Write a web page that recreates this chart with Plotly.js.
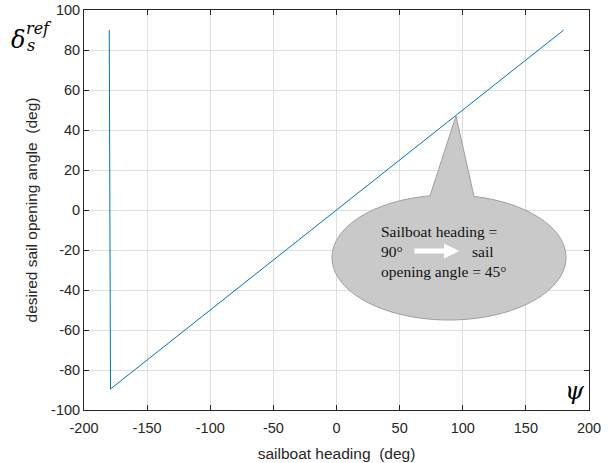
<!DOCTYPE html>
<html>
<head>
<meta charset="utf-8">
<script src="https://cdn.plot.ly/plotly-3.0.1.min.js"></script>
<style>html,body{margin:0;padding:0;background:#fff;}#chart{width:616px;height:463px;}</style>
</head>
<body>
<div id="chart"></div>
<script>
// Data
const heading = [-180, -179, 180];        // sailboat heading (deg)
const sailAngle = [90, -89.5, 90];        // desired sail opening angle (deg)
const xTicks = [-200, -150, -100, -50, 0, 50, 100, 150, 200];
const yTicks = [-100, -80, -60, -40, -20, 0, 20, 40, 60, 80, 100];
const calloutLines = ["Sailboat heading =", "90°", "sail", "opening angle = 45°"];

// plot geometry (pixels) used for converting callout geometry
const L = 84, R = 27, T = 10, B = 53, W = 616, H = 463;
const pw = W - L - R, ph = H - T - B;
const xr = [-200, 200], yr = [-100, 100];
const px2x = p => xr[0] + (p - L) / pw * (xr[1] - xr[0]);
const py2y = p => yr[1] - (p - T) / ph * (yr[1] - yr[0]);

// speech-bubble callout (in pixel space, converted to data)
const cx = 449, cy = 257.5, rx = 117, ry = 62.5;
const tip = [456, 116];
const tL = Math.acos((430 - cx) / rx), tR = Math.acos((474 - cx) / rx);
let path = `M${px2x(tip[0])},${py2y(tip[1])}`;
const n = 120;
const t0 = tL, t1 = tR + 2 * Math.PI;
for (let i = 0; i <= n; i++) {
  const t = t0 + (t1 - t0) * i / n;
  const X = cx + rx * Math.cos(t), Y = cy - ry * Math.sin(t);
  path += ` L${px2x(X)},${py2y(Y)}`;
}
path += " Z";

const trace = {
  x: heading, y: sailAngle, type: 'scatter', mode: 'lines',
  line: {color: '#0072BD', width: 1}, hoverinfo: 'skip'
};

const axisCommon = {
  showline: true, linecolor: '#262626', linewidth: 1, mirror: 'ticks',
  ticks: 'inside', ticklen: 5, tickcolor: '#262626',
  showgrid: true, gridcolor: '#dfdfdf', gridwidth: 1,
  zeroline: false, tickfont: {family: 'Liberation Sans, Arial', size: 14.5, color: '#262626'}
};

const serif = 'Liberation Serif, Times New Roman, serif';
const txt = (text, px, py, extra) => Object.assign({
  text: text, x: px2x(px), y: py2y(py), xref: 'x', yref: 'y',
  xanchor: 'left', yanchor: 'middle', showarrow: false,
  font: {family: serif, size: 15.5, color: '#111'}
}, extra || {});

const layout = {
  width: W, height: H,
  margin: {l: L, r: R, t: T, b: B},
  paper_bgcolor: '#fff', plot_bgcolor: '#fff',
  showlegend: false,
  xaxis: Object.assign({}, axisCommon, {
    range: xr, tickvals: xTicks, ticktext: xTicks.map(String), ticklabelstandoff: 5,
    title: {text: 'sailboat heading  (deg)', font: {family: 'Liberation Sans, Arial', size: 15.5, color: '#262626'}, standoff: 12}
  }),
  yaxis: Object.assign({}, axisCommon, {
    range: yr, tickvals: yTicks, ticktext: yTicks.map(String),
    title: {text: 'desired sail opening angle  (deg)', font: {family: 'Liberation Sans, Arial', size: 15.5, color: '#262626'}, standoff: 9}
  }),
  shapes: [{
    type: 'path', xref: 'x', yref: 'y', path: path,
    fillcolor: '#c9c9c9', line: {color: '#9e9e9e', width: 1}, layer: 'above'
  }],
  annotations: [
    txt(calloutLines[0], 379, 231),
    txt(calloutLines[1], 379, 251),
    txt(calloutLines[2], 470, 251),
    txt(calloutLines[3], 379, 271),
    {x: px2x(459), y: py2y(251), xref: 'x', yref: 'y', ax: -46, ay: 0, text: '',
     showarrow: true, arrowcolor: '#ffffff', arrowwidth: 5, arrowhead: 2, arrowsize: 0.6},
    {text: '<i>δ</i>', xref: 'paper', yref: 'paper', x: (18 - L) / pw, y: (H - B - 40) / ph,
     xanchor: 'center', yanchor: 'middle', showarrow: false,
     font: {family: 'DejaVu Serif, serif', size: 24, color: '#000'}},
    {text: '<i>ref</i>', xref: 'paper', yref: 'paper', x: (24 - L) / pw, y: (H - B - 29) / ph,
     xanchor: 'left', yanchor: 'middle', showarrow: false,
     font: {family: 'DejaVu Serif, serif', size: 16, color: '#000'}},
    {text: '<i>s</i>', xref: 'paper', yref: 'paper', x: (25 - L) / pw, y: (H - B - 46) / ph,
     xanchor: 'left', yanchor: 'middle', showarrow: false,
     font: {family: 'DejaVu Serif, serif', size: 16, color: '#000'}},
    {text: '<i>ψ</i>', xref: 'paper', yref: 'paper', x: (575 - L) / pw, y: (H - B - 391) / ph,
     xanchor: 'center', yanchor: 'middle', showarrow: false,
     font: {family: 'DejaVu Serif, serif', size: 24, color: '#000'}}
  ]
};

Plotly.newPlot('chart', [trace], layout, {displayModeBar: false, staticPlot: true});
</script>
</body>
</html>
